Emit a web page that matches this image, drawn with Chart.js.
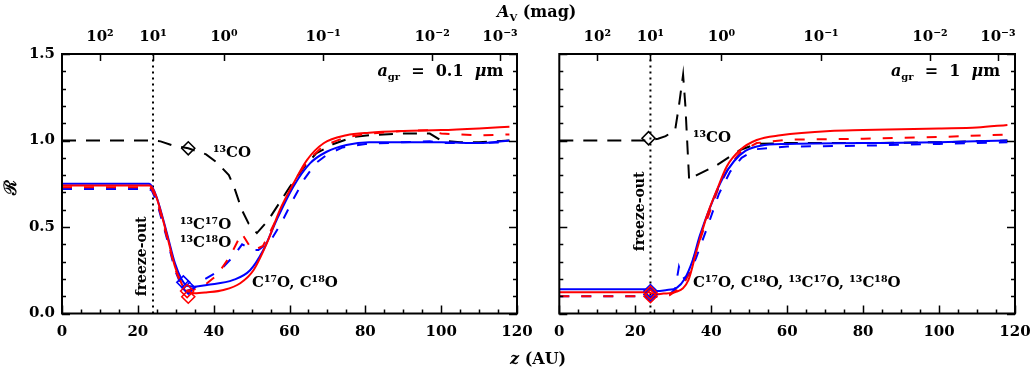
<!DOCTYPE html>
<html>
<head>
<meta charset="utf-8">
<script src="https://cdn.jsdelivr.net/npm/chart.js@4.4.1/dist/chart.umd.min.js"></script>
<style>
  body { margin: 0; background: #fff; width: 1031px; height: 370px; position: relative; overflow: hidden; font-family: 'DejaVu Serif', serif; }
  #cLeft { position: absolute; left: 0; top: 0; }
  #cRight { position: absolute; left: 530px; top: 0; }
  .ttl { position: absolute; font-size: 16px; font-weight: bold; white-space: nowrap; color: #000; }
</style>
</head>
<body>
<canvas id="cLeft" width="540" height="370"></canvas>
<canvas id="cRight" width="501" height="370"></canvas>
<div class="ttl" style="left:497px; top:2px;"><i>A</i><sub style="font-size:10px">V</sub> (mag)</div>
<div class="ttl" style="left:510px; top:349px;"><i>z</i> (AU)</div>
<div class="ttl" style="left:2px; top:176px; transform:rotate(-90deg); font-size:17px;">ℛ</div>
<script>
// top axis: A_V (mag) positions in z (AU)
const avZ = [10, 24, 42.7, 68.9, 97.6, 115.5];
const avLabels = ['10²', '10¹', '10⁰', '10⁻¹', '10⁻²', '10⁻³'];
const freezeZ = 24;

// a_gr = 0.1 um
const L_co13_z = [0, 24, 26, 29.4, 33.3, 38, 41, 44, 45.4, 47.4, 49.2, 51.4, 54.4, 58.4, 60, 64, 67, 71.6, 76.8, 81, 90, 97, 100, 105, 110, 118];
const L_co13_R = [1.0, 1.0, 0.995, 0.97, 0.955, 0.92, 0.87, 0.8, 0.73, 0.6, 0.52, 0.465, 0.54, 0.675, 0.73, 0.85, 0.925, 0.98, 1.02, 1.03, 1.04, 1.04, 1.0, 0.99, 0.99, 1.0];
const L_redS_z = [0, 23, 23.7, 25, 27.6, 29.8, 31.5, 32.8, 35, 38, 42.6, 47, 50.5, 54, 57.5, 61, 64.6, 69, 75, 81, 90, 100, 110, 118];
const L_redS_R = [0.74, 0.74, 0.73, 0.666, 0.46, 0.27, 0.175, 0.126, 0.117, 0.122, 0.136, 0.175, 0.25, 0.405, 0.6, 0.75, 0.887, 0.984, 1.03, 1.045, 1.055, 1.06, 1.07, 1.08];
const L_bluS_z = [0, 23, 23.7, 25, 27.6, 29.8, 31.5, 33, 35, 38.2, 45.2, 49.6, 53.1, 56.6, 61, 65.4, 69.8, 75, 81, 90, 100, 110, 118];
const L_bluS_R = [0.75, 0.75, 0.735, 0.67, 0.47, 0.29, 0.2, 0.16, 0.155, 0.165, 0.194, 0.25, 0.367, 0.54, 0.733, 0.868, 0.935, 0.974, 0.99, 0.99, 0.99, 0.985, 1.0];
const L_redD_z = [0, 23, 23.7, 25, 27.6, 29.8, 31.5, 33, 35, 38, 40.8, 44.3, 47.4, 49.6, 50.7, 53, 56, 59, 62, 65, 69, 75, 81, 90, 97, 100, 110, 118];
const L_redD_R = [0.73, 0.73, 0.72, 0.655, 0.45, 0.26, 0.165, 0.13, 0.14, 0.17, 0.22, 0.33, 0.464, 0.386, 0.367, 0.39, 0.52, 0.66, 0.79, 0.89, 0.97, 1.02, 1.04, 1.055, 1.06, 1.04, 1.03, 1.035];
const L_bluD_z = [0, 23, 23.7, 25, 27.6, 29.8, 31.5, 33, 35, 37.3, 41.7, 45.2, 47.5, 50.5, 51.8, 55, 58, 61, 64, 67, 70, 74, 80, 90, 97, 100, 110, 118];
const L_bluD_R = [0.72, 0.72, 0.71, 0.645, 0.44, 0.25, 0.16, 0.13, 0.15, 0.194, 0.25, 0.33, 0.4, 0.367, 0.367, 0.42, 0.53, 0.66, 0.78, 0.87, 0.92, 0.96, 0.98, 0.99, 0.995, 0.985, 0.985, 0.99];
const L_diaBlack = [[33.3, 0.955]];
const L_diaBlue = [[32, 0.18], [33.3, 0.15]];
const L_diaRed = [[33, 0.13], [33.3, 0.097]];

// a_gr = 1 um
const R_co13_z = [0, 23.5, 26, 28, 30.5, 31.5, 32.6, 33.2, 34.2, 36.2, 41.5, 47.6, 52, 60, 80, 100, 118];
const R_co13_R = [1.0, 1.0, 1.01, 1.025, 1.06, 1.2, 1.38, 1.2, 0.77, 0.8, 0.858, 0.945, 0.98, 0.985, 0.985, 0.99, 1.0];
const R_redS_z = [0, 23.5, 25, 27.4, 30.9, 34, 36.2, 38.8, 41.5, 44.1, 47.6, 52, 58.2, 71.3, 80, 90, 100, 110, 118];
const R_redS_R = [0.123, 0.123, 0.11, 0.115, 0.126, 0.193, 0.367, 0.56, 0.714, 0.85, 0.945, 1.003, 1.03, 1.055, 1.06, 1.065, 1.07, 1.075, 1.09];
const R_bluS_z = [0, 23.5, 25, 28, 31, 33, 35, 37, 40, 43, 46, 49, 53, 60, 80, 100, 118];
const R_bluS_R = [0.14, 0.14, 0.13, 0.135, 0.15, 0.2, 0.3, 0.45, 0.63, 0.78, 0.88, 0.94, 0.97, 0.98, 0.985, 0.99, 1.0];
const R_redD_z = [0, 23.5, 25, 29, 32, 33.5, 36, 39, 42, 45, 48, 52, 60, 80, 100, 118];
const R_redD_R = [0.1, 0.1, 0.095, 0.105, 0.15, 0.2, 0.36, 0.55, 0.73, 0.86, 0.94, 0.985, 1.005, 1.01, 1.02, 1.035];
const R_bluD_z = [0, 23.5, 25, 29, 30.5, 31.5, 32.5, 34, 36, 39, 42, 45, 48, 52, 60, 80, 100, 118];
const R_bluD_R = [0.1, 0.1, 0.095, 0.11, 0.14, 0.27, 0.2, 0.22, 0.32, 0.5, 0.69, 0.82, 0.9, 0.95, 0.965, 0.97, 0.98, 0.99];
const R_diaBlack = [[23.5, 1.013]];
const R_diaBlue = [[24, 0.13], [24, 0.11]];
const R_diaRed = [[24, 0.12], [24, 0.1]];

const FONT = "'DejaVu Serif', serif";
const RED = '#ff0000', BLUE = '#0000ff';
const TXT = 'bold 15px ' + FONT;

function pts(zs, rs) {
    return zs.map(function (z, i) { return { x: z, y: rs[i] }; });
}

function curve(zs, rs, color, dash, smooth) {
    return {
        data: pts(zs, rs),
        borderColor: color,
        borderWidth: 2,
        borderDash: dash || [],
        cubicInterpolationMode: smooth ? 'monotone' : 'default',
        tension: 0,
        pointRadius: 0,
        fill: false
    };
}

function diamonds(list, color) {
    return {
        type: 'scatter',
        data: list.map(function (p) { return { x: p[0], y: p[1] }; }),
        pointStyle: 'rectRot',
        pointRadius: 6.5,
        pointBorderWidth: 1.6,
        pointBorderColor: color,
        pointBackgroundColor: 'rgba(0,0,0,0)',
        showLine: false
    };
}

// inward ticks on all four sides + frame (IDL look)
const frameTicks = {
    id: 'frameTicks',
    afterDraw: function (chart) {
        const ctx = chart.ctx, a = chart.chartArea, x = chart.scales.x, y = chart.scales.y;
        ctx.save();
        ctx.strokeStyle = '#000';
        ctx.lineWidth = 1.5;
        ctx.beginPath();
        for (let v = 0; v <= 120; v += 5) {
            const px = Math.round(x.getPixelForValue(v)) + 0.5;
            const len = v % 20 === 0 ? 8 : 4;
            ctx.moveTo(px, a.bottom); ctx.lineTo(px, a.bottom - len);
        }
        avZ.forEach(function (v) {
            const px = Math.round(x.getPixelForValue(v)) + 0.5;
            ctx.moveTo(px, a.top); ctx.lineTo(px, a.top + 7);
        });
        for (let i = 0; i <= 15; i++) {
            const py = Math.round(y.getPixelForValue(i / 10)) + 0.5;
            const len = i % 5 === 0 ? 8 : 4;
            ctx.moveTo(a.left, py); ctx.lineTo(a.left + len, py);
            ctx.moveTo(a.right, py); ctx.lineTo(a.right - len, py);
        }
        ctx.stroke();
        ctx.lineWidth = 2;
        ctx.strokeRect(a.left, a.top, a.right - a.left, a.bottom - a.top);
        ctx.restore();
    }
};

// text labels placed at data coordinates
function notes(items) {
    return {
        id: 'notes',
        afterDatasetsDraw: function (chart) {
            const ctx = chart.ctx, xs = chart.scales.x, ys = chart.scales.y;
            ctx.save();
            ctx.fillStyle = '#000';
            ctx.textBaseline = 'middle';
            items.forEach(function (n) {
                let w = 0;
                n.parts.forEach(function (p) { ctx.font = p[1]; w += ctx.measureText(p[0]).width; });
                ctx.save();
                ctx.translate(xs.getPixelForValue(n.z), ys.getPixelForValue(n.r));
                if (n.rot) ctx.rotate(-Math.PI / 2);
                let cx = n.align === 'right' ? -w : (n.align === 'center' ? -w / 2 : 0);
                n.parts.forEach(function (p) {
                    ctx.font = p[1];
                    ctx.fillText(p[0], cx, p[2] || 0);
                    cx += ctx.measureText(p[0]).width;
                });
                ctx.restore();
            });
            ctx.restore();
        }
    };
}

function agrParts(val) {
    return [
        ['a', 'italic bold 16px ' + FONT],
        ['gr', 'bold 10px ' + FONT, 5],
        ['  =  ' + val + '  ', 'bold 16px ' + FONT],
        ['μ', 'italic bold 16px ' + FONT],
        ['m', 'bold 16px ' + FONT]
    ];
}

function noPad(s) {
    s.paddingLeft = 0; s.paddingRight = 0; s.paddingTop = 0; s.paddingBottom = 0;
}

// axis boxes are sized so the plot area lands where the reference has it
function panel(id, yWidth, padRight, sets, items, showY) {
    return new Chart(document.getElementById(id), {
        type: 'line',
        data: { datasets: sets },
        options: {
            responsive: false,
            animation: false,
            layout: { padding: { left: 0, right: padRight, top: 0, bottom: 0 } },
            plugins: { legend: { display: false }, tooltip: { enabled: false } },
            scales: {
                x: {
                    type: 'linear', position: 'bottom', min: 0, max: 120,
                    grid: { display: false, drawTicks: false }, border: { display: false },
                    ticks: { stepSize: 20, padding: 10, color: '#000', maxRotation: 0, font: { family: FONT, size: 15, weight: 'bold' } },
                    afterFit: function (s) { s.height = 56.5; noPad(s); }
                },
                xa: {
                    type: 'linear', position: 'top', min: 0, max: 120,
                    grid: { display: false, drawTicks: false }, border: { display: false },
                    afterBuildTicks: function (s) { s.ticks = avZ.map(function (v) { return { value: v }; }); },
                    ticks: {
                        autoSkip: false, padding: 8, color: '#000', maxRotation: 0, font: { family: FONT, size: 15, weight: 'bold' },
                        callback: function (v, i) { return avLabels[i]; }
                    },
                    afterFit: function (s) { s.height = 54; noPad(s); }
                },
                y: {
                    min: 0, max: 1.5,
                    grid: { display: false, drawTicks: false }, border: { display: false },
                    ticks: {
                        display: showY, stepSize: 0.5, padding: 7, color: '#000', font: { family: FONT, size: 15, weight: 'bold' },
                        callback: function (v) { return v.toFixed(1); }
                    },
                    afterFit: function (s) { s.width = yWidth; noPad(s); }
                }
            }
        },
        plugins: [frameTicks, notes(items)]
    });
}

const DASH_BLACK = [14, 10];
const DASH_COLOR = [10, 12];

const freezeLine = function () {
    return {
        data: [{ x: freezeZ, y: 0 }, { x: freezeZ, y: 1.5 }],
        borderColor: '#000', borderWidth: 2, borderDash: [2, 4], pointRadius: 0, fill: false
    };
};

panel('cLeft', 62, 23, [
    diamonds(L_diaRed, RED),
    diamonds(L_diaBlue, BLUE),
    diamonds(L_diaBlack, '#000'),
    curve(L_redS_z, L_redS_R, RED, null, true),
    curve(L_bluS_z, L_bluS_R, BLUE, null, true),
    curve(L_redD_z, L_redD_R, RED, DASH_COLOR, false),
    curve(L_bluD_z, L_bluD_R, BLUE, DASH_COLOR, false),
    curve(L_co13_z, L_co13_R, '#000', DASH_BLACK, false),
    freezeLine()
], [
    { z: 116.4, r: 1.396, align: 'right', parts: agrParts('0.1') },
    { z: 39.8, r: 0.93, parts: [['¹³CO', TXT]] },
    { z: 31.1, r: 0.51, parts: [['¹³C¹⁷O', TXT]] },
    { z: 31.1, r: 0.405, parts: [['¹³C¹⁸O', TXT]] },
    { z: 50.1, r: 0.176, parts: [['C¹⁷O, C¹⁸O', TXT]] },
    { z: 21.1, r: 0.33, align: 'center', rot: true, parts: [['freeze-out', 'bold 14px ' + FONT]] }
], true);

panel('cRight', 29.3, 16, [
    diamonds(R_diaRed, RED),
    diamonds(R_diaBlue, BLUE),
    diamonds(R_diaBlack, '#000'),
    curve(R_redS_z, R_redS_R, RED, null, true),
    curve(R_bluS_z, R_bluS_R, BLUE, null, true),
    curve(R_redD_z, R_redD_R, RED, DASH_COLOR, false),
    curve(R_bluD_z, R_bluD_R, BLUE, DASH_COLOR, false),
    curve(R_co13_z, R_co13_R, '#000', DASH_BLACK, false),
    freezeLine()
], [
    { z: 116.1, r: 1.396, align: 'right', parts: agrParts('1') },
    { z: 35.2, r: 1.015, parts: [['¹³CO', TXT]] },
    { z: 35.2, r: 0.176, parts: [['C¹⁷O, C¹⁸O, ¹³C¹⁷O, ¹³C¹⁸O', TXT]] },
    { z: 21.3, r: 0.59, align: 'center', rot: true, parts: [['freeze-out', 'bold 14px ' + FONT]] }
], false);
</script>
</body>
</html>
